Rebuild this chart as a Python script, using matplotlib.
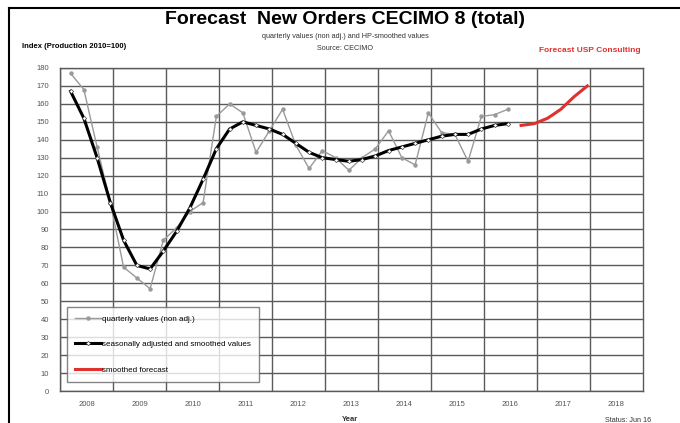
import numpy as np
import matplotlib.pyplot as plt
from matplotlib.lines import Line2D

# ----------------------------------------------
# Datos
# ----------------------------------------------
years = list(range(2008, 2019))

# valores trimestrales (no ajustados), 2008Q1 .. 2016Q2
quarterly = [177, 168, 136, 105, 69, 63, 57, 84, 91, 100, 105, 153,
             160, 155, 133, 145, 157, 137, 124, 134, 130, 123, 130, 135,
             145, 130, 126, 155, 144, 143, 128, 153, 154, 157]

# valores desestacionalizados y suavizados (HP)
smoothed = [167, 152, 130, 105, 84, 70, 68, 78, 89, 102, 118, 135,
            146, 150, 148, 146, 143, 138, 133, 130, 129, 128, 129, 131,
            134, 136, 138, 140, 142, 143, 143, 146, 148, 149]

# previsión suavizada, 2016Q3 .. 2017Q4
forecast = [148, 149, 152, 157, 164, 170]

# posiciones trimestrales sobre el eje de años
q_offset = 0.2
x_hist = 2008 + q_offset + 0.25 * np.arange(len(quarterly))
x_fc = x_hist[-1] + 0.25 * np.arange(1, len(forecast) + 1)

# ----------------------------------------------
# Figura
# ----------------------------------------------
plt.rcParams['font.family'] = ['Liberation Sans', 'DejaVu Sans']

fig = plt.figure(figsize=(6.8, 4.23), dpi=100)
ax = fig.add_axes([60 / 680, 32 / 423, 583 / 680, 323 / 423])

ax.plot(x_hist, quarterly, color='#9a9a9a', linewidth=1.0, marker='o',
        markersize=2.2, label='quarterly values (non adj.)')
ax.plot(x_hist, smoothed, color='black', linewidth=2.2, marker='D',
        markersize=2.2, markerfacecolor='white', markeredgecolor='#444444',
        markeredgewidth=0.5, label='seasonally adjusted and smoothed values')
ax.plot(x_fc, forecast, color='#e03030', linewidth=2.2,
        label='smoothed forecast')

ax.set_xlim(2008, 2019)
ax.set_ylim(0, 180)
ax.set_yticks(range(0, 181, 10))
ax.set_xticks(years, minor=False)
ax.set_xticklabels([])
ax.set_xticks([y + 0.5 for y in years], minor=True)
ax.set_xticklabels([str(y) for y in years], minor=True)

ax.grid(True, which='major', color='#5a5a5a', linewidth=1.0)
ax.set_axisbelow(True)
ax.tick_params(which='both', length=0, labelsize=5.5, colors='#555555')
ax.tick_params(axis='x', which='minor', pad=7)
ax.tick_params(axis='y', pad=8)
for s in ax.spines.values():
    s.set_color('#5a5a5a')
    s.set_linewidth(1.0)

leg = ax.legend(loc='lower left', bbox_to_anchor=(0.005, 0.015),
                fontsize=5.8, frameon=True, fancybox=False,
                edgecolor='#666666', handlelength=3.2, labelspacing=2.25,
                borderpad=1.0, handletextpad=0.2)
leg.get_frame().set_linewidth(1.0)

# ----------------------------------------------
# Textos
# ----------------------------------------------
fig.text(345 / 680, 1 - 20 / 423, 'Forecast  New Orders CECIMO 8 (total)',
         ha='center', va='center', fontsize=14, fontweight='bold')
fig.text(345 / 680, 1 - 36 / 423,
         'quarterly values (non adj.) and HP-smoothed values',
         ha='center', va='center', fontsize=5.2, color='#333333')
fig.text(345 / 680, 1 - 48 / 423, 'Source: CECIMO',
         ha='center', va='center', fontsize=5.2, color='#333333')
fig.text(22 / 680, 1 - 47 / 423, 'Index (Production 2010=100)',
         ha='left', va='center', fontsize=5.5, fontweight='bold')
fig.text(590 / 680, 1 - 51 / 423, 'Forecast USP Consulting',
         ha='center', va='center', fontsize=6, fontweight='bold',
         color='#e03030')
fig.text(350 / 680, 1 - 419 / 423, 'Year', ha='center', va='center',
         fontsize=5.5, fontweight='bold', color='#333333')
fig.text(628 / 680, 1 - 420 / 423, 'Status: Jun 16', ha='center',
         va='center', fontsize=5.2, color='#333333')

# marco exterior (borde superior e izquierdo)
fig.add_artist(Line2D([9 / 680, 9 / 680], [0, 1 - 8 / 423],
                      color='black', linewidth=1.5))
fig.add_artist(Line2D([9 / 680, 1], [1 - 8 / 423, 1 - 8 / 423],
                      color='black', linewidth=1.5))

fig.savefig('out.png', dpi=100)
plt.close(fig)
